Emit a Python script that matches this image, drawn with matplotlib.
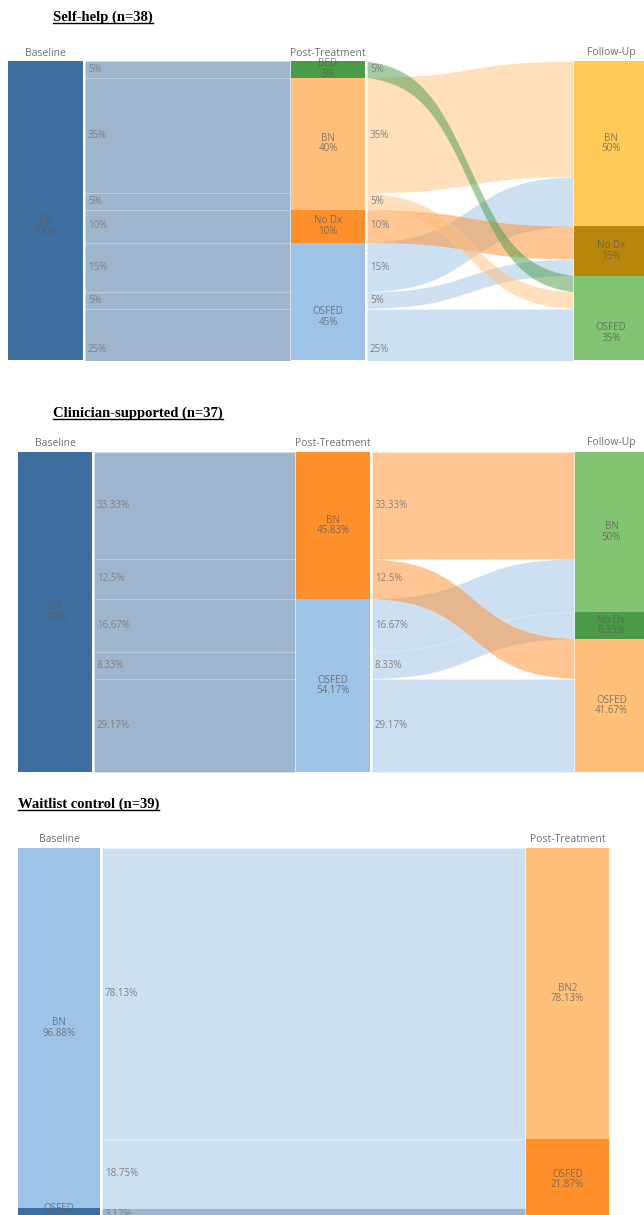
import matplotlib.pyplot as plt
import numpy as np
from matplotlib.colors import to_rgba
from matplotlib.lines import Line2D
from matplotlib.transforms import IdentityTransform

W, H = 644, 1215

# === palette ===
DARK_BLUE = "#3c6e9f"
LIGHT_BLUE = "#9dc3e6"
LIGHT_ORANGE = "#ffc07a"
ORANGE = "#ff8f2b"
GREEN = "#4a9a48"
LIGHT_GREEN = "#82c471"
YELLOW = "#ffca55"
GOLD = "#b8860b"

# === Self-help (n=38) ===
sh_stages = ["Baseline", "Post-Treatment", "Follow-Up"]
sh_nodes = [["BN"], ["BED", "BN", "No Dx", "OSFED"], ["BN", "No Dx", "OSFED"]]
sh_node_pct = [["100%"], ["5%", "40%", "10%", "45%"], ["50%", "15%", "35%"]]
sh_paths = [("BN", "BED", "OSFED"), ("BN", "BN", "BN"), ("BN", "BN", "OSFED"),
            ("BN", "No Dx", "No Dx"), ("BN", "OSFED", "BN"), ("BN", "OSFED", "No Dx"),
            ("BN", "OSFED", "OSFED")]
sh_path_pct = [5, 35, 5, 10, 15, 5, 25]
sh_path_labels = ["5%", "35%", "5%", "10%", "15%", "5%", "25%"]

# === Clinician-supported (n=37) ===
cs_stages = ["Baseline", "Post-Treatment", "Follow-Up"]
cs_nodes = [["BN"], ["BN", "OSFED"], ["BN", "No Dx", "OSFED"]]
cs_node_pct = [["100%"], ["45.83%", "54.17%"], ["50%", "8.33%", "41.67%"]]
cs_paths = [("BN", "BN", "BN"), ("BN", "BN", "OSFED"), ("BN", "OSFED", "BN"),
            ("BN", "OSFED", "No Dx"), ("BN", "OSFED", "OSFED")]
cs_path_pct = [33.33, 12.5, 16.67, 8.33, 29.17]
cs_path_labels = ["33.33%", "12.5%", "16.67%", "8.33%", "29.17%"]

# === Waitlist control (n=39) ===
wl_stages = ["Baseline", "Post-Treatment"]
wl_nodes = [["BN", "OSFED"], ["BN2", "OSFED"]]
wl_node_pct = [["96.88%", "3.12%"], ["78.13%", "21.87%"]]
wl_paths = [("BN", "BN2"), ("BN", "OSFED"), ("OSFED", "OSFED")]
wl_path_pct = [78.13, 18.75, 3.12]
wl_path_labels = ["78.13%", "18.75%", "3.12%"]

SANS = "Open Sans"
TXT = "#6e6e6e"


def sigmoid(t, k=8.0):
    s = 1 / (1 + np.exp(-k * (t - 0.5)))
    lo, hi = 1 / (1 + np.exp(k * 0.5)), 1 / (1 + np.exp(-k * 0.5))
    return (s - lo) / (hi - lo)


def draw_panel(top_px, full_px, bottom_px, stages, nodes, node_pct, node_colors,
               paths, path_pct, path_labels, cols, header_y):
    """One sankey panel; y axis is percent of the cohort (0 at top)."""
    ax = fig.add_axes([0, 1 - bottom_px / H, 1, (bottom_px - top_px) / H])
    ax.set_xlim(0, W)
    ax.set_ylim((bottom_px - top_px) / full_px * 100, 0)
    ax.axis("off")

    n_st = len(stages)
    # node extents from the paths passing through them
    extents = []
    for s in range(n_st):
        sizes = [sum(p for path, p in zip(paths, path_pct) if path[s] == name) for name in nodes[s]]
        starts = np.concatenate([[0], np.cumsum(sizes)[:-1]])
        extents.append(dict(zip(nodes[s], zip(starts, sizes))))

    # y start of every path at every stage
    pos = []
    for s in range(n_st):
        fill = {name: extents[s][name][0] for name in nodes[s]}
        ys = []
        for path, p in zip(paths, path_pct):
            ys.append(fill[path[s]])
            fill[path[s]] += p
        pos.append(ys)

    # links
    for s in range(n_st - 1):
        xa, xb = cols[s][1] + 2, cols[s + 1][0] - 1
        x = np.linspace(xa, xb, 200)
        sig = sigmoid((x - xa) / (xb - xa))
        for i in reversed(range(len(paths))):
            src = paths[i][s]
            color = node_colors[s][nodes[s].index(src)]
            y0 = pos[s][i] + (pos[s + 1][i] - pos[s][i]) * sig
            ax.fill_between(x, y0, y0 + path_pct[i], facecolor=to_rgba(color, 0.5),
                            edgecolor=(1, 1, 1, 0.18), lw=0.6)
        for i in range(len(paths)):
            ax.text(xa + 3, pos[s][i] + path_pct[i] / 2, path_labels[i], ha="left",
                    va="center", fontsize=7, color="#808080", family=SANS)

    # nodes
    for s in range(n_st):
        x0, x1 = cols[s]
        for name, color, lab in zip(nodes[s], node_colors[s], node_pct[s]):
            y0, h = extents[s][name]
            ax.bar(x0, h, width=x1 - x0, bottom=y0, align="edge", color=color, lw=0)
            ax.text((x0 + x1) / 2, y0 + h / 2, f"{name}\n{lab}", ha="center", va="center",
                    fontsize=7, color="#5a5a5a", alpha=0.75, family=SANS, linespacing=0.95)
        fig.text((x0 + x1) / 2 / W, 1 - header_y / H, stages[s], ha="center", va="center",
                 fontsize=7.5, color=TXT, family=SANS)
    return ax


def title(x_px, y_px, s):
    t = fig.text(x_px / W, 1 - y_px / H, s, ha="left", va="center", fontsize=10.5,
                 fontweight="bold", family="Liberation Serif")
    titles.append(t)


fig = plt.figure(figsize=(W / 100, H / 100), dpi=100)
titles = []

title(53, 17, "Self-help (n=38)")
draw_panel(61, 330, 360, sh_stages, sh_nodes, sh_node_pct,
           [[DARK_BLUE], [GREEN, LIGHT_ORANGE, ORANGE, LIGHT_BLUE], [YELLOW, GOLD, LIGHT_GREEN]],
           sh_paths, sh_path_pct, sh_path_labels, [(8, 83), (291, 365), (574, 648)], 53)

title(53, 413, "Clinician-supported (n=37)")
draw_panel(452, 320, 772, cs_stages, cs_nodes, cs_node_pct,
           [[DARK_BLUE], [ORANGE, LIGHT_BLUE], [LIGHT_GREEN, GREEN, LIGHT_ORANGE]],
           cs_paths, cs_path_pct, cs_path_labels, [(18, 92), (296, 370), (575, 648)], 443)

title(18, 804, "Waitlist control (n=39)")
draw_panel(848, 372, H, wl_stages, wl_nodes, wl_node_pct,
           [[LIGHT_BLUE, DARK_BLUE], [LIGHT_ORANGE, ORANGE]],
           wl_paths, wl_path_pct, wl_path_labels, [(18, 100), (526, 609)], 839)

# underline the panel titles
fig.canvas.draw()
for t in titles:
    bb = t.get_window_extent()
    fig.add_artist(Line2D([bb.x0, bb.x1], [bb.y0 + 1, bb.y0 + 1], transform=IdentityTransform(),
                          color="black", lw=1))

fig.savefig("out.png", dpi=100)
